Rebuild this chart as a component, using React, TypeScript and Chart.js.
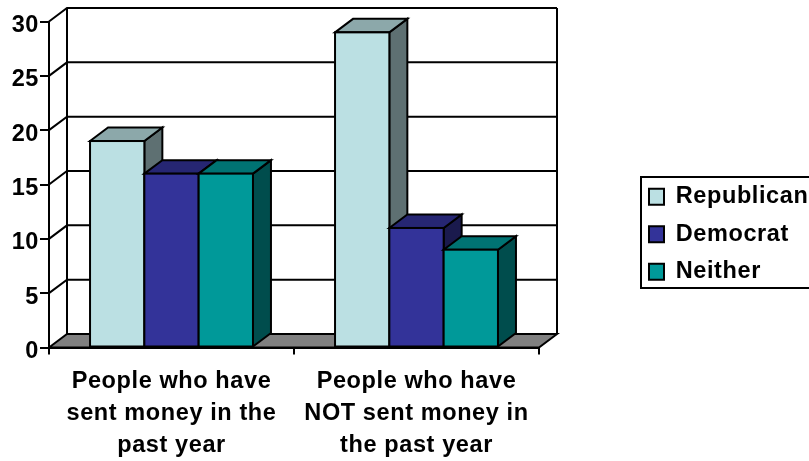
import React, { useEffect, useRef } from "react";
import { Chart, registerables } from "chart.js";

Chart.register(...registerables);

const categories = [
  ["People who have", "sent money in the", "past year"],
  ["People who have", "NOT sent money in", "the past year"],
];
const seriesNames = ["Republican", "Democrat", "Neither"];
const republican = [19, 29];
const democrat = [16, 11];
const neither = [16, 9];
const yTicksMax = 30;
const yStep = 5;

const FRONT = ["#BBE0E3", "#333399", "#009999"];
const TOP = ["#8CA8AA", "#262673", "#007373"];
const SIDE = ["#5E7072", "#1A1A4D", "#004D4D"];
const FLOOR = "#808080";
const DX = 18;
const DY = 13.5;
const FONT = "'Liberation Sans', Arial, sans-serif";
const FONT_SIZE = 23.5;
const LETTER = "0.6px";

function poly(ctx: any, pts: number[][], fill?: string) {
  ctx.beginPath();
  pts.forEach((p, i) => (i ? ctx.lineTo(p[0], p[1]) : ctx.moveTo(p[0], p[1])));
  ctx.closePath();
  if (fill) {
    ctx.fillStyle = fill;
    ctx.fill();
  }
  ctx.stroke();
}

const spacingPlugin = {
  id: "spacing",
  beforeLayout(chart: any) {
    chart.ctx.letterSpacing = LETTER;
  },
  beforeUpdate(chart: any) {
    chart.ctx.letterSpacing = LETTER;
  },
  beforeDraw(chart: any) {
    chart.ctx.letterSpacing = LETTER;
  },
};

const wallsPlugin = {
  id: "walls",
  afterLayout(chart: any) {
    const lg = chart.legend;
    lg.left = 635;
    lg.right = lg.left + lg.width;
    lg.top = 171;
    lg.bottom = lg.top + lg.height;
  },
  beforeDraw(chart: any) {
    const { ctx, chartArea: a, scales } = chart;
    const y = scales.y;
    ctx.save();
    ctx.strokeStyle = "#000";
    ctx.lineWidth = 2;
    ctx.lineJoin = "miter";
    const b = a.bottom;
    poly(ctx, [[a.left, b], [a.left + DX, b - DY], [a.right + DX, b - DY], [a.right, b]], FLOOR);
    for (let v = yStep; v <= yTicksMax; v += yStep) {
      const py = y.getPixelForValue(v);
      ctx.beginPath();
      ctx.moveTo(a.left, py);
      ctx.lineTo(a.left + DX, py - DY);
      ctx.lineTo(a.right + DX, py - DY);
      ctx.stroke();
    }
    ctx.beginPath();
    ctx.moveTo(a.left + DX, a.top - DY);
    ctx.lineTo(a.left + DX, b - DY);
    ctx.moveTo(a.right + DX, a.top - DY);
    ctx.lineTo(a.right + DX, b - DY);
    ctx.stroke();
    // legend frame
    ctx.fillStyle = "#fff";
    ctx.fillRect(641, 177, 180, 111);
    ctx.strokeRect(641, 177, 180, 111);
    ctx.restore();
  },
  beforeDatasetDraw() {
    return false;
  },
  beforeDatasetsDraw(chart: any) {
    const { ctx, data } = chart;
    ctx.save();
    ctx.strokeStyle = "#000";
    ctx.lineWidth = 2;
    ctx.lineJoin = "miter";
    for (let c = 0; c < data.labels.length; c++) {
      for (let d = 0; d < data.datasets.length; d++) {
        const bar = chart.getDatasetMeta(d).data[c];
        const l = bar.x - bar.width / 2;
        const r = bar.x + bar.width / 2;
        const t = bar.y;
        const bt = bar.base;
        poly(ctx, [[r, t], [r + DX, t - DY], [r + DX, bt - DY], [r, bt]], SIDE[d]);
        poly(ctx, [[l, t], [l + DX, t - DY], [r + DX, t - DY], [r, t]], TOP[d]);
        bar.draw(ctx);
        ctx.strokeRect(l, t, r - l, bt - t);
      }
    }
    ctx.restore();
  },
};

export default function App() {
  const ref = useRef<HTMLCanvasElement | null>(null);
  useEffect(() => {
    document.body.style.margin = "0";
    const values = [republican, democrat, neither];
    const chart = new Chart(ref.current as HTMLCanvasElement, {
      type: "bar",
      data: {
        labels: categories as any,
        datasets: seriesNames.map((label, i) => ({
          label,
          data: values[i],
          backgroundColor: FRONT[i],
          borderWidth: 0,
          categoryPercentage: 0.665,
          barPercentage: 1,
        })),
      },
      plugins: [spacingPlugin, wallsPlugin],
      options: {
        animation: false,
        responsive: false,
        devicePixelRatio: 1,
        layout: { autoPadding: false, padding: { left: 0, right: 270, top: 21.5, bottom: 0 } },
        plugins: {
          tooltip: { enabled: false },
          title: { display: false },
          legend: {
            position: "chartArea",
            align: "start",
            labels: {
              boxWidth: 15,
              boxHeight: 16,
              padding: 14,
              color: "#000",
              font: { family: FONT, weight: "bold", size: FONT_SIZE },
              generateLabels: (c: any) =>
                (Chart.defaults.plugins.legend.labels as any)
                  .generateLabels(c)
                  .map((it: any) => ({ ...it, lineWidth: 2, strokeStyle: "#000" })),
            },
          },
        },
        scales: {
          x: {
            type: "category",
            afterFit: (s: any) => {
              s.height = 113.5;
            },
            grid: { drawOnChartArea: false, offset: true, tickLength: 7, color: "#000", lineWidth: 2 },
            border: { display: true, color: "#000", width: 2 },
            ticks: {
              autoSkip: false,
              maxRotation: 0,
              minRotation: 0,
              padding: 11,
              color: "#000",
              font: { family: FONT, weight: "bold", size: FONT_SIZE, lineHeight: "32px" },
            },
          },
          y: {
            type: "linear",
            min: 0,
            max: yTicksMax,
            afterFit: (s: any) => {
              s.width = 49;
            },
            grid: { drawOnChartArea: false, tickLength: 9, color: "#000", lineWidth: 2 },
            border: { display: true, color: "#000", width: 2 },
            ticks: {
              stepSize: yStep,
              padding: 1,
              labelOffset: 4,
              color: "#000",
              font: { family: FONT, weight: "bold", size: FONT_SIZE },
            },
          },
        },
      } as any,
    });
    return () => chart.destroy();
  }, []);
  return <canvas ref={ref} width={809} height={461} style={{ display: "block" }} />;
}
